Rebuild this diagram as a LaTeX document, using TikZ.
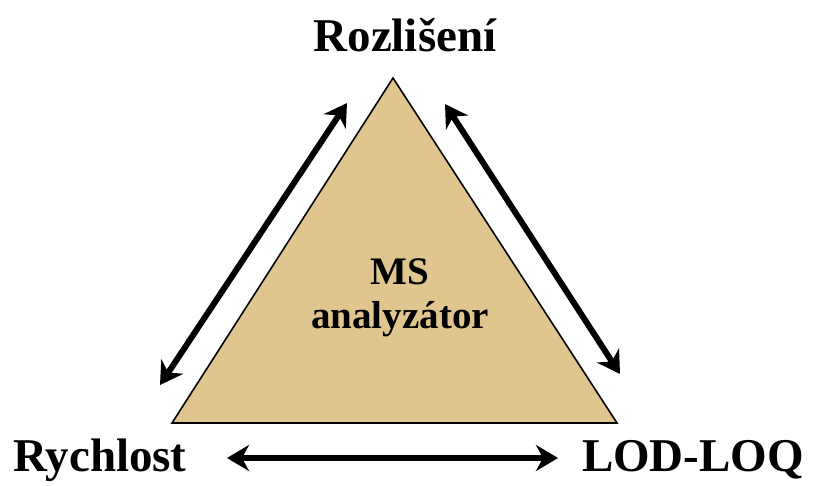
\documentclass[tikz,border=0pt]{standalone}
\usepackage{fontspec}
\setmainfont{Liberation Serif}
\usepackage{tikz}
\usetikzlibrary{arrows.meta}

\definecolor{papyrus}{RGB}{224,198,142}
\tikzset{
  label/.style={font=\fontsize{47}{50}\selectfont\bfseries, inner sep=0pt},
  inlabel/.style={font=\fontsize{39}{44}\selectfont\bfseries, align=center, inner sep=0pt},
  twoway/.style={line width=6pt, {Stealth[length=22pt,width=26pt,inset=7pt]}-{Stealth[length=22pt,width=26pt,inset=7pt]}}
}

\begin{document}
\begin{tikzpicture}[x=1pt,y=-1pt]
\useasboundingbox (0,0) rectangle (816,485);
%trojuhelnik
\coordinate (top) at (393,78);
\coordinate (bl) at (172,423);
\coordinate (br) at (617,423);
\filldraw[fill=papyrus, draw=black, line width=1.6pt] (top) -- (br) -- (bl) -- cycle;
%popisky
\node[label] (rozliseni) at (405,35) {Rozlišení};
\node[label] (rychlost) at (100,460) {Rychlost};
\node[label] (lodloq) at (693,460) {LOD-LOQ};
\node[inlabel] (ms) at (400,298) {MS\\analyzátor};
%sipky
\coordinate (l1) at (160,385);
\coordinate (l2) at (347,103);
\coordinate (r1) at (445,104);
\coordinate (r2) at (620,374);
\coordinate (b1) at (227,458);
\coordinate (b2) at (558,458);
\draw[twoway] (l1) -- (l2);
\draw[twoway] (r1) -- (r2);
\draw[twoway] (b1) -- (b2);
\end{tikzpicture}
\end{document}
